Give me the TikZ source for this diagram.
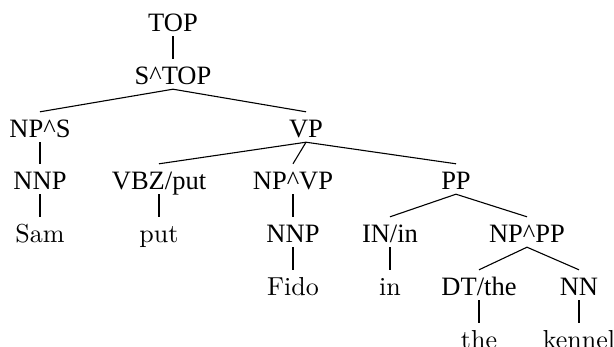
\documentclass[tikz,border=0pt]{standalone}
\usepackage{fontspec}
\setmainfont{lmroman10-regular}[Extension=.otf]
\newfontfamily\catfont{Liberation Serif}
\newcommand{\crt}{\textasciicircum}
\tikzset{
  cat/.style={anchor=base, inner sep=0pt, text height=25pt, text depth=5pt,
    font=\catfont\fontsize{26.5}{30}\selectfont},
  word/.style={anchor=base, inner sep=0pt, text height=25pt, text depth=5pt,
    font=\fontsize{26}{30}\selectfont},
  branch/.style={line width=1.1pt}
}
\begin{document}
\begin{tikzpicture}[x=1pt,y=-1pt]
\useasboundingbox (0,0) rectangle (614,346);
% rows of the tree, by baseline
\def\ra{31}\def\rb{84}\def\rc{137}\def\rd{189}\def\re{242}\def\rf{295}\def\rg{348}
\node[cat] (top) at (173,\ra) {TOP};
\node[cat] (s) at (173,\rb) {S\crt TOP};
\node[cat] (nps) at (40,\rc) {NP\crt S};
\node[cat] (vp) at (306,\rc) {VP};
\node[cat] (nnp1) at (40,\rd) {NNP};
\node[cat] (vbz) at (159,\rd) {VBZ/put};
\node[cat] (npvp) at (293,\rd) {NP\crt VP};
\node[cat] (pp) at (456,\rd) {PP};
\node[word] (sam) at (40,\re) {Sam};
\node[word] (put) at (159,\re) {put};
\node[cat] (nnp2) at (293,\re) {NNP};
\node[cat] (in) at (390,\re) {IN/in};
\node[cat] (nppp) at (527,\re) {NP\crt PP};
\node[word] (fido) at (293,\rf) {Fido};
\node[word] (inw) at (390,\rf) {in};
\node[cat] (dt) at (479,\rf) {DT/the};
\node[cat] (nn) at (579,\rf) {NN};
\node[word] (the) at (479,\rg) {the};
\node[word] (kennel) at (579,\rg) {kennel};
% branches
\draw[branch] (top.south) -- (s.north);
\draw[branch] (s.south) -- (nps.north);
\draw[branch] (s.south) -- (vp.north);
\draw[branch] (nps.south) -- (nnp1.north);
\draw[branch] (nnp1.south) -- (sam.north);
\draw[branch] (vp.south) -- (vbz.north);
\draw[branch] (vp.south) -- (npvp.north);
\draw[branch] (vp.south) -- (pp.north);
\draw[branch] (vbz.south) -- (put.north);
\draw[branch] (npvp.south) -- (nnp2.north);
\draw[branch] (nnp2.south) -- (fido.north);
\draw[branch] (pp.south) -- (in.north);
\draw[branch] (pp.south) -- (nppp.north);
\draw[branch] (in.south) -- (inw.north);
\draw[branch] (nppp.south) -- (dt.north);
\draw[branch] (nppp.south) -- (nn.north);
\draw[branch] (dt.south) -- (the.north);
\draw[branch] (nn.south) -- (kennel.north);
\end{tikzpicture}
\end{document}
